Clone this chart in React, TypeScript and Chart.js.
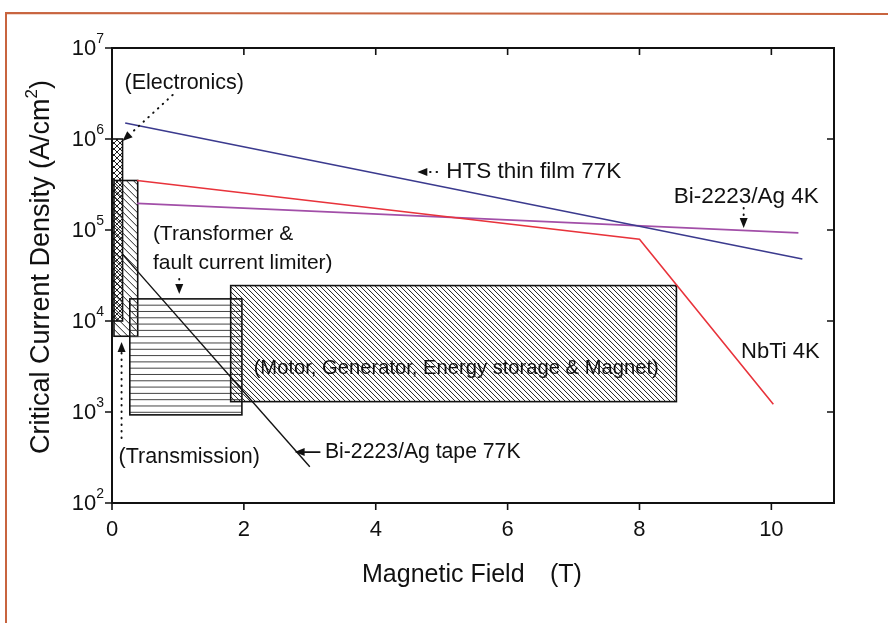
import React, { useEffect, useRef } from "react";
import { Chart, registerables } from "chart.js";
Chart.register(...registerables);

// ---- data (magnetic field in T, critical current density in A/cm^2) ----
const fieldHTS = [0.2, 10.47];
const jcHTS = [1.5e6, 4.8e4];
const fieldNbTi = [0.38, 8.0, 10.03];
const jcNbTi = [3.5e5, 7.9e4, 1.22e3];
const fieldBi4K = [0.38, 10.41];
const jcBi4K = [1.96e5, 9.3e4];
const fieldBiTape = [0.15, 3.0];
const jcBiTape = [5.5e4, 2.5e2];

const xTicks = [0, 2, 4, 6, 8, 10];
const yExponents = [2, 3, 4, 5, 6, 7];

// application regions
const regionNames = ["Electronics", "Transformer", "Transmission", "Motor"];
const regionFieldMin = [0, 0.03, 0.27, 1.8];
const regionFieldMax = [0.16, 0.39, 1.97, 8.56];
const regionJcMin = [1e4, 6.8e3, 9.3e2, 1.3e3];
const regionJcMax = [1e6, 3.5e5, 1.75e4, 2.45e4];
const regionHatch = ["cross", "back", "horiz", "back"];
const regionSpacing = [6, 7, 6.3, 5];

// text annotations (anchor in data coordinates)
const annotations = [
  { text: "(Electronics)", x: 0.19, e: 6.615, align: "left", size: 21.5 },
  { text: "HTS thin film 77K", x: 5.07, e: 5.637, align: "left", size: 22.5 },
  { text: "Bi-2223/Ag 4K", x: 8.52, e: 5.363, align: "left", size: 22.5 },
  { text: "(Transformer &", x: 0.62, e: 4.956, align: "left", size: 21 },
  { text: "fault current limiter)", x: 0.62, e: 4.637, align: "left", size: 21 },
  { text: "(Transmission)", x: 0.1, e: 2.505, align: "left", size: 21.5 },
  { text: "(Motor, Generator, Energy storage & Magnet)", x: 5.22, e: 3.484, align: "center", size: 20.2 },
  { text: "NbTi 4K", x: 9.54, e: 3.659, align: "left", size: 22 },
  { text: "Bi-2223/Ag tape 77K", x: 3.23, e: 2.56, align: "left", size: 21.2 },
];

// arrows: from -> to (data coords, exponent for y)
const arrows = [
  { x0: 0.92, e0: 6.484, x1: 0.16, e1: 5.978, dotted: true },
  { x0: 4.93, e0: 5.637, x1: 4.63, e1: 5.637, dotted: true },
  { x0: 9.58, e0: 5.242, x1: 9.58, e1: 5.022, dotted: true },
  { x0: 1.02, e0: 4.462, x1: 1.02, e1: 4.297, dotted: true },
  { x0: 0.145, e0: 2.714, x1: 0.145, e1: 3.769, dotted: true },
  { x0: 3.15, e0: 2.56, x1: 2.77, e1: 2.56, dotted: false },
];

const FONT = '"Liberation Sans", Arial, sans-serif';

function hatch(ctx: CanvasRenderingContext2D, x0: number, y0: number, w: number, h: number, kind: string, s: number) {
  ctx.save();
  ctx.beginPath();
  ctx.rect(x0, y0, w, h);
  ctx.clip();
  ctx.beginPath();
  ctx.strokeStyle = "#222";
  ctx.lineWidth = 1;
  if (kind === "back" || kind === "cross") {
    for (let c = -h; c < w; c += s) {
      ctx.moveTo(x0 + c, y0);
      ctx.lineTo(x0 + c + h, y0 + h);
    }
  }
  if (kind === "cross") {
    for (let c = 0; c < w + h; c += s) {
      ctx.moveTo(x0 + c, y0);
      ctx.lineTo(x0 + c - h, y0 + h);
    }
  }
  if (kind === "horiz") {
    ctx.strokeStyle = "#444";
    for (let y = y0 + s; y < y0 + h - 1; y += s) {
      ctx.moveTo(x0, y);
      ctx.lineTo(x0 + w, y);
    }
  }
  ctx.stroke();
  ctx.restore();
}

const regionsPlugin = {
  id: "regions",
  beforeDatasetsDraw(chart: any) {
    const ctx: CanvasRenderingContext2D = chart.ctx;
    const xs = chart.scales.x;
    const ys = chart.scales.y;
    regionNames.forEach((_, i) => {
      const x0 = xs.getPixelForValue(regionFieldMin[i]);
      const x1 = xs.getPixelForValue(regionFieldMax[i]);
      const y0 = ys.getPixelForValue(regionJcMax[i]);
      const y1 = ys.getPixelForValue(regionJcMin[i]);
      hatch(ctx, x0, y0, x1 - x0, y1 - y0, regionHatch[i], regionSpacing[i]);
      ctx.save();
      ctx.strokeStyle = "#111";
      ctx.lineWidth = 1.6;
      ctx.strokeRect(x0, y0, x1 - x0, y1 - y0);
      ctx.restore();
    });
  },
};

const framePlugin = {
  id: "frame",
  afterDraw(chart: any) {
    const ctx: CanvasRenderingContext2D = chart.ctx;
    const xs = chart.scales.x;
    const ys = chart.scales.y;
    const a = chart.chartArea;
    ctx.save();
    // page border of the scan
    ctx.strokeStyle = "#c8643f";
    ctx.lineWidth = 2;
    ctx.beginPath();
    ctx.moveTo(6, 623);
    ctx.lineTo(6, 13);
    ctx.lineTo(888, 14);
    ctx.stroke();

    // plot frame
    ctx.strokeStyle = "#111";
    ctx.lineWidth = 2;
    ctx.strokeRect(a.left, a.top, a.right - a.left, a.bottom - a.top);

    // x ticks
    ctx.lineWidth = 1.6;
    ctx.fillStyle = "#111";
    ctx.font = `22px ${FONT}`;
    ctx.textAlign = "center";
    ctx.textBaseline = "top";
    xTicks.forEach((t) => {
      const px = xs.getPixelForValue(t);
      ctx.beginPath();
      ctx.moveTo(px, a.bottom);
      ctx.lineTo(px, a.bottom + 7);
      ctx.moveTo(px, a.top);
      ctx.lineTo(px, a.top + 7);
      ctx.stroke();
      ctx.fillText(String(t), px, a.bottom + 16);
    });

    // y ticks
    yExponents.forEach((e) => {
      const py = ys.getPixelForValue(Math.pow(10, e));
      ctx.beginPath();
      ctx.moveTo(a.left - 7, py);
      ctx.lineTo(a.left, py);
      ctx.moveTo(a.right, py);
      ctx.lineTo(a.right - 7, py);
      ctx.stroke();
      ctx.font = `14px ${FONT}`;
      const sw = ctx.measureText(String(e)).width;
      ctx.textAlign = "right";
      ctx.textBaseline = "middle";
      ctx.fillText(String(e), a.left - 8, py - 9);
      ctx.font = `22px ${FONT}`;
      ctx.fillText("10", a.left - 8 - sw, py + 1);
    });

    // axis titles
    ctx.font = `25px ${FONT}`;
    ctx.textAlign = "left";
    ctx.textBaseline = "middle";
    ctx.fillText("Magnetic Field", 362, 575);
    ctx.fillText("(T)", 550, 575);

    ctx.save();
    ctx.translate(42, 267);
    ctx.rotate(-Math.PI / 2);
    const p1 = "Critical Current Density (A/cm";
    const p3 = ")";
    ctx.font = `27px ${FONT}`;
    const w1 = ctx.measureText(p1).width;
    const w3 = ctx.measureText(p3).width;
    ctx.font = `17px ${FONT}`;
    const w2 = ctx.measureText("2").width;
    const total = w1 + w2 + w3;
    let cx = -total / 2;
    ctx.font = `27px ${FONT}`;
    ctx.fillText(p1, cx, 0);
    cx += w1;
    ctx.font = `17px ${FONT}`;
    ctx.fillText("2", cx, -10);
    cx += w2;
    ctx.font = `27px ${FONT}`;
    ctx.fillText(p3, cx, 0);
    ctx.restore();

    // annotations
    ctx.textBaseline = "middle";
    annotations.forEach((an) => {
      ctx.font = `${an.size}px ${FONT}`;
      ctx.textAlign = an.align as CanvasTextAlign;
      ctx.fillText(an.text, xs.getPixelForValue(an.x), ys.getPixelForValue(Math.pow(10, an.e)));
    });

    // arrows
    arrows.forEach((ar) => {
      const x0 = xs.getPixelForValue(ar.x0);
      const y0 = ys.getPixelForValue(Math.pow(10, ar.e0));
      const x1 = xs.getPixelForValue(ar.x1);
      const y1 = ys.getPixelForValue(Math.pow(10, ar.e1));
      const ang = Math.atan2(y1 - y0, x1 - x0);
      const hl = 10;
      const hw = 4;
      const bx = x1 - hl * Math.cos(ang);
      const by = y1 - hl * Math.sin(ang);
      ctx.beginPath();
      ctx.strokeStyle = "#111";
      if (ar.dotted) {
        ctx.lineWidth = 2;
        ctx.lineCap = "round";
        ctx.setLineDash([0.5, 6]);
      } else {
        ctx.lineWidth = 1.8;
        ctx.setLineDash([]);
      }
      ctx.moveTo(x0, y0);
      ctx.lineTo(bx, by);
      ctx.stroke();
      ctx.setLineDash([]);
      ctx.beginPath();
      ctx.fillStyle = "#111";
      ctx.moveTo(x1, y1);
      ctx.lineTo(bx + hw * Math.sin(ang), by - hw * Math.cos(ang));
      ctx.lineTo(bx - hw * Math.sin(ang), by + hw * Math.cos(ang));
      ctx.closePath();
      ctx.fill();
    });
    ctx.restore();
  },
};

function pts(xs: number[], ys: number[]) {
  return xs.map((x, i) => ({ x, y: ys[i] }));
}

export default function App() {
  const ref = useRef<HTMLCanvasElement | null>(null);
  useEffect(() => {
    document.body.style.margin = "0";
    document.body.style.background = "#fff";
    if (!ref.current) return;
    const lineDs = (label: string, data: any[], color: string, width = 1.6) => ({
      label,
      data,
      showLine: true,
      borderColor: color,
      backgroundColor: color,
      borderWidth: width,
      pointRadius: 0,
      tension: 0,
    });
    const chart = new Chart(ref.current, {
      type: "scatter",
      data: {
        datasets: [
          lineDs("HTS thin film 77K", pts(fieldHTS, jcHTS), "#3b3a8e"),
          lineDs("NbTi 4K", pts(fieldNbTi, jcNbTi), "#e8333b"),
          lineDs("Bi-2223/Ag 4K", pts(fieldBi4K, jcBi4K), "#a24fa8"),
          lineDs("Bi-2223/Ag tape 77K", pts(fieldBiTape, jcBiTape), "#111111", 1.4),
        ],
      },
      options: {
        responsive: false,
        animation: false,
        layout: { padding: { left: 112, right: 54, top: 48, bottom: 120 } },
        scales: {
          x: { type: "linear", min: 0, max: 10.95, display: false },
          y: { type: "logarithmic", min: 100, max: 1e7, display: false },
        },
        plugins: { legend: { display: false }, tooltip: { enabled: false } },
      },
      plugins: [regionsPlugin, framePlugin],
    });
    return () => chart.destroy();
  }, []);
  return <canvas ref={ref} width={888} height={623} style={{ display: "block" }} />;
}
